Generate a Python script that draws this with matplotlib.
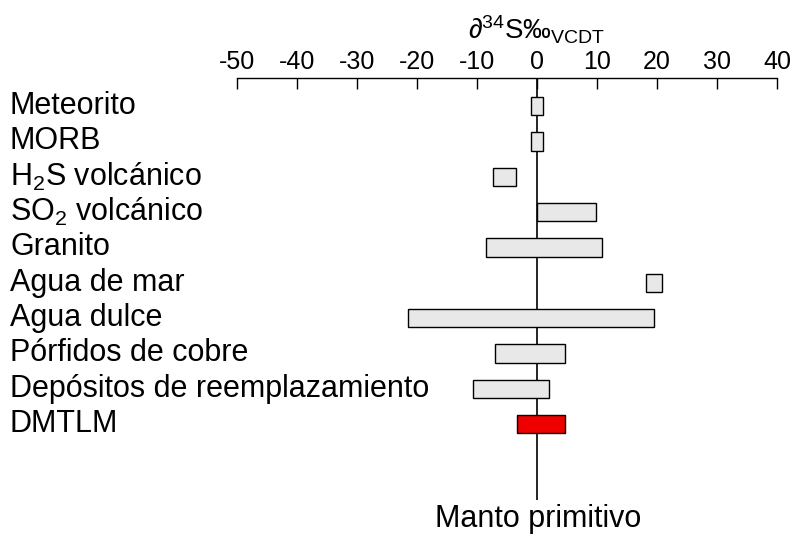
import matplotlib.pyplot as plt
import matplotlib.transforms as mtransforms

plt.rcParams['font.family'] = ['Liberation Sans', 'DejaVu Sans']
plt.rcParams['mathtext.fontset'] = 'custom'
plt.rcParams['mathtext.rm'] = 'Liberation Sans'
plt.rcParams['mathtext.it'] = 'Liberation Sans'

# sulphur isotope ranges (per mil, VCDT) for each reservoir
labels = ['Meteorito', 'MORB', 'H$_2$S volcánico', 'SO$_2$ volcánico', 'Granito',
          'Agua de mar', 'Agua dulce', 'Pórfidos de cobre',
          'Depósitos de reemplazamiento', 'DMTLM']
low = [-1, -1, -7.3, 0, -8.5, 18.2, -21.5, -7, -10.7, -3.3]
high = [1, 1, -3.5, 9.8, 10.8, 20.8, 19.5, 4.7, 2, 4.7]
colors = ['#e8e8e8'] * 9 + ['#ee0000']
ticks = list(range(-50, 41, 10))

fig = plt.figure(figsize=(7.95, 5.37), dpi=100)
W, H = 795, 537
ax = fig.add_axes([237 / W, 1 - 500 / H, 540 / W, 422 / H])

rows = list(range(len(labels)))
ax.barh(rows, [h - l for l, h in zip(low, high)], left=low, height=0.52,
        color=colors, edgecolor='black', linewidth=1.0, zorder=3)
ax.axvline(0, color='black', linewidth=1.2, zorder=2)

# rows sit 35.35 px apart, the first one 106 px from the top
step, first = 35.35, 106
ax.set_xlim(-50, 40)
ax.set_ylim((500 - first) / step, (78 - first) / step)
ax.xaxis.tick_top()
ax.set_xticks(ticks)
ax.set_xticklabels([str(t) for t in ticks], fontsize=18)
ax.tick_params(axis='x', direction='in', length=8, width=1, pad=3)
ax.set_yticks([])
for s in ['left', 'right', 'bottom']:
    ax.spines[s].set_visible(False)
ax.spines['top'].set_linewidth(1)

trans = mtransforms.blended_transform_factory(fig.transFigure, ax.transData)
for r, lab in zip(rows, labels):
    ax.text(10 / W, r, lab, transform=trans, ha='left', va='center',
            fontsize=22)

fig.text(537 / W, 1 - 30 / H, '∂$^{34}$S‰$_{\\mathrm{VCDT}}$', ha='center',
         va='center', fontsize=20)
fig.text(538 / W, 1 - 519 / H, 'Manto primitivo', ha='center', va='center',
         fontsize=22)

fig.savefig('out.png', dpi=100)
